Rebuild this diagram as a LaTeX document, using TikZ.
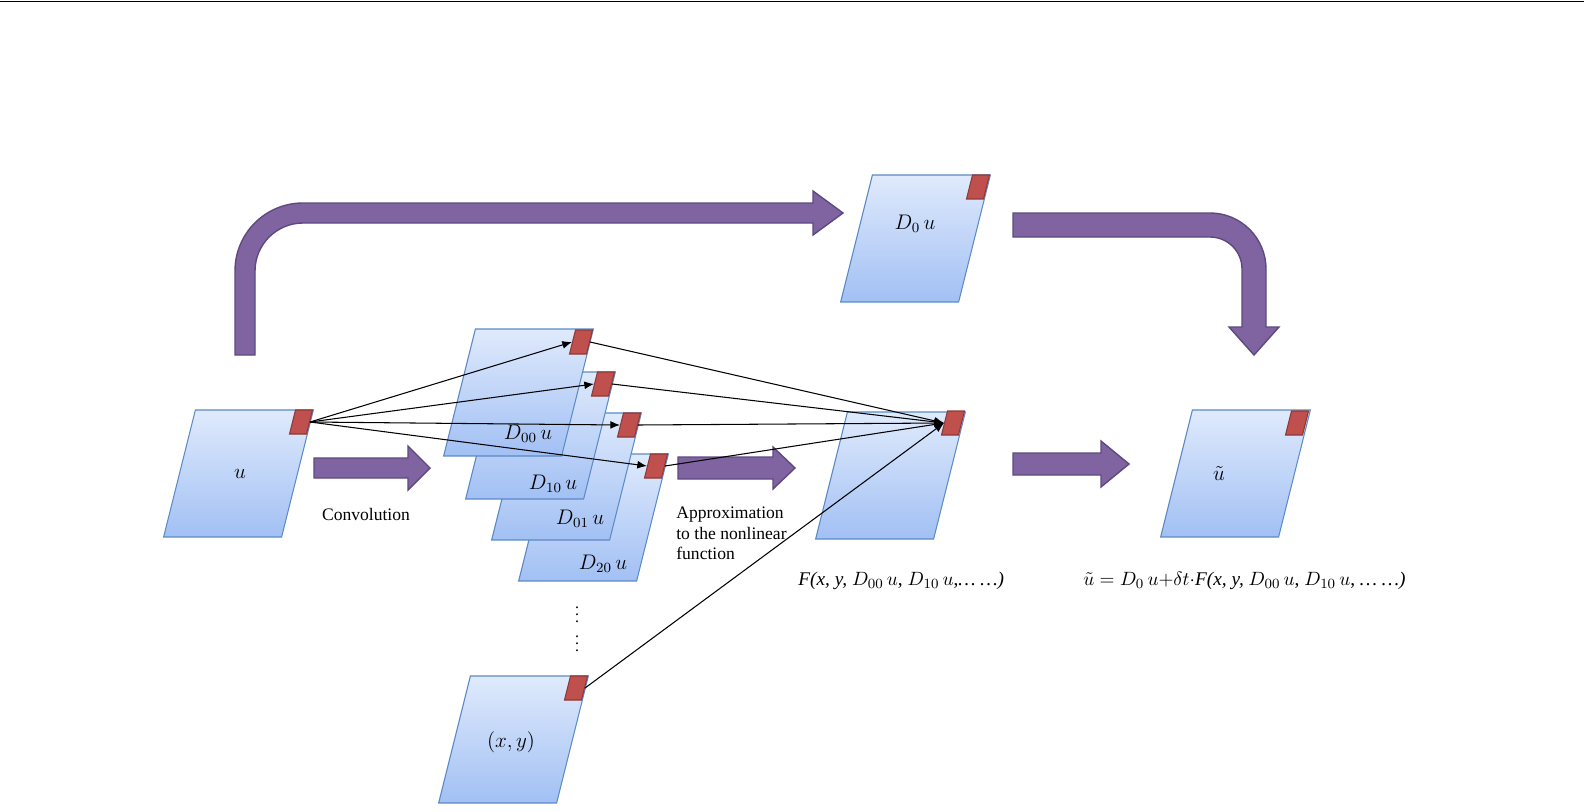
\documentclass[tikz,border=0pt]{standalone}
\usepackage{fontspec}
\setmainfont{Liberation Serif}
\usetikzlibrary{arrows.meta}
\definecolor{cardtop}{HTML}{DFEAFC}
\definecolor{cardbot}{HTML}{A2C0F4}
\definecolor{cardline}{HTML}{5A8AC6}
\definecolor{redfill}{HTML}{C0504D}
\definecolor{redline}{HTML}{8C3A37}
\definecolor{purfill}{HTML}{8064A2}
\definecolor{purline}{HTML}{5C4A7E}
\begin{document}
\begin{tikzpicture}[x=0.02cm,y=-0.02cm,
 card/.style={xslant=0.25, minimum width=2.36cm, minimum height=2.54cm, inner sep=0pt, draw=cardline, line width=0.6pt, top color=cardtop, bottom color=cardbot},
 redsq/.style={xslant=0.25, minimum width=0.34cm, minimum height=0.48cm, inner sep=0pt, draw=redline, fill=redfill, line width=0.6pt},
 conn/.style={draw=black, line width=0.6pt, -{Latex[length=5.5pt,width=4.5pt]}},
 fat/.style={fill=purfill, draw=purline, line width=0.8pt},
 lab/.style={font=\fontsize{12}{14}\selectfont, inner sep=0pt},
 form/.style={font=\fontsize{11}{13}\selectfont, inner sep=0pt},
 txt/.style={font=\fontsize{10}{11.5}\selectfont, inner sep=0pt, align=left}]
\useasboundingbox (0,0) rectangle (1584,811);
\draw[line width=1pt] (0,1.5) -- (1584,1.5);

% big bent arrows
\path[fat] (235,355) -- (235,271) .. controls (235,233.4) and (265.4,203) .. (303,203) -- (813,203) -- (813,191) -- (843,213) -- (813,235) -- (813,223) -- (303,223) .. controls (276.5,223) and (255,244.5) .. (255,271) -- (255,355) -- cycle;
\path[fat] (1013,213) -- (1210,213) .. controls (1240.9,213) and (1266,238.1) .. (1266,269) -- (1266,327) -- (1279,327) -- (1254,355) -- (1229,327) -- (1242,327) -- (1242,269) .. controls (1242,251.3) and (1227.7,237) .. (1210,237) -- (1013,237) -- cycle;

% straight fat arrows
\path[fat] (314,458) -- (408,458) -- (408,446) -- (430,468) -- (408,490) -- (408,478) -- (314,478) -- cycle;
\path[fat] (678,457) -- (773,457) -- (773,447) -- (795,468) -- (773,489) -- (773,479) -- (678,479) -- cycle;
\path[fat] (1013,453) -- (1101,453) -- (1101,441) -- (1129,464) -- (1101,487) -- (1101,475) -- (1013,475) -- cycle;

% cards
\node[card] (u) at (238.5,473.5) {};
\node[redsq] (uR) at (301,422) {};
\node[card] (d20) at (593.5,517.5) {};
\node[redsq] (d20R) at (656,466) {};
\node[card] (d01) at (566.5,476.5) {};
\node[redsq] (d01R) at (629,425) {};
\node[card] (d10) at (540.5,435.5) {};
\node[redsq] (d10R) at (603,384) {};
\node[card] (d00) at (518.5,392.5) {};
\node[redsq] (d00R) at (581,342) {};
\node[card] (d0) at (915.5,238.5) {};
\node[redsq] (d0R) at (978,187) {};
\node[card] (F) at (890.5,475.5) {};
\node[redsq] (FR) at (953,423) {};
\node[card] (ut) at (1235.5,473.5) {};
\node[redsq] (utR) at (1297,423) {};
\node[card] (xy) at (513.5,739.5) {};
\node[redsq] (xyR) at (576,688) {};

% labels
\node[lab] (lu) at (240,474) {$u$};
\node[lab] (l00) at (528,434) {$D_{00}\,u$};
\node[lab] (l10) at (553,484) {$D_{10}\,u$};
\node[lab] (l01) at (580,519) {$D_{01}\,u$};
\node[lab] (l20) at (603,564) {$D_{20}\,u$};
\node[lab] (l0) at (915,224) {$D_{0}\,u$};
\node[lab] (lut) at (1219,473) {$\tilde u$};
\node[lab] (lxy) at (511,742) {$(x,y)$};
\node[font=\fontsize{9}{13}\selectfont, inner sep=0pt, align=center] (dots) at (577,624) {$\vdots$\\$\vdots$};

\node[txt] (conv) at (366,514) {Convolution};
\node[txt, anchor=north west] (approx) at (676,507) {Approximation\\to the nonlinear\\function};
\node[form, anchor=west] (Flab) at (798,581) {\textit{F(x, y,} $D_{00}\,u$, $D_{10}\,u$,\textit{… …)}};
\node[form, anchor=west] (utlab) at (1083,581) {$\tilde u = D_0\,u{+}\delta t\cdot$\textit{F(x, y,} $D_{00}\,u$, $D_{10}\,u$, \textit{… …)}};

% connectors
\draw[conn] (uR.east) -- (d00R.west);
\draw[conn] (uR.east) -- (d10R.west);
\draw[conn] (uR.east) -- (d01R.west);
\draw[conn] (uR.east) -- (d20R.west);
\draw[conn] (d00R.east) -- (FR.west);
\draw[conn] (d10R.east) -- (FR.west);
\draw[conn] (d01R.east) -- (FR.west);
\draw[conn] (d20R.east) -- (FR.west);
\draw[conn] (xyR.east) -- (FR.west);
\end{tikzpicture}
\end{document}
